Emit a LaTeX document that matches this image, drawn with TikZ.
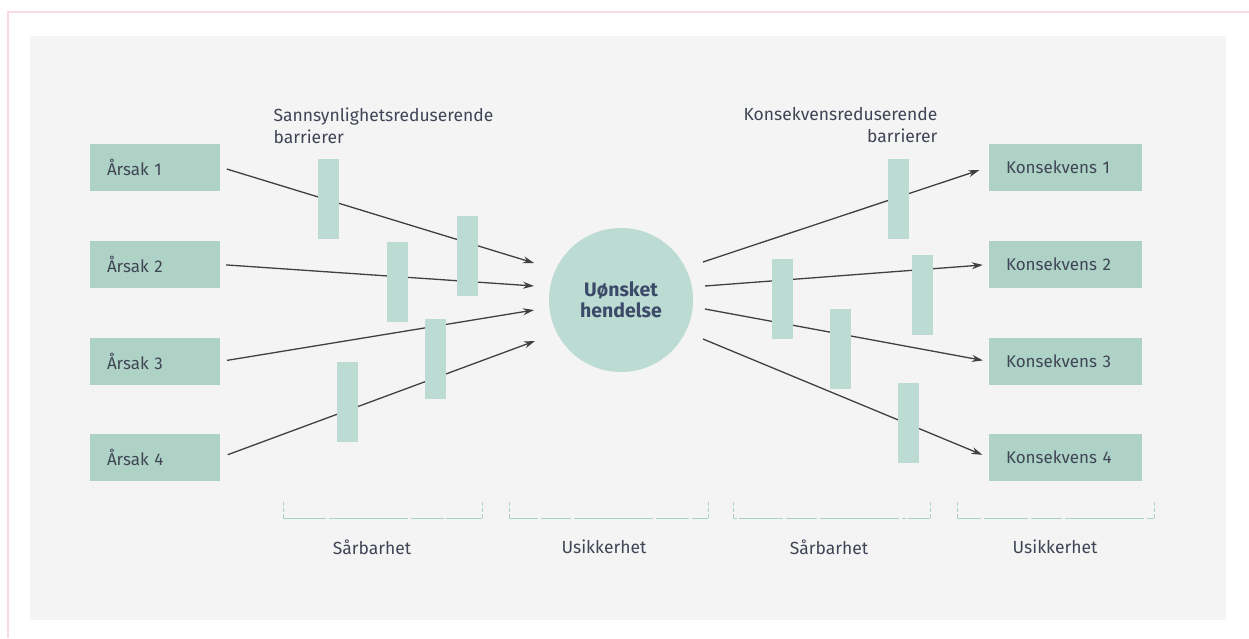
\documentclass[tikz,border=0pt]{standalone}
\usepackage{fontspec}
\setmainfont{Fira Sans}
\usepackage{xcolor}
\usepackage{tikz}
\usetikzlibrary{arrows.meta}
\pgfdeclarelayer{nodelayer}
\pgfdeclarelayer{edgelayer}
\pgfsetlayers{nodelayer,edgelayer,main}
\definecolor{boxgreen}{HTML}{AED3C6}
\definecolor{barrgreen}{HTML}{BCDBD2}
\definecolor{panelgrey}{HTML}{F4F4F4}
\definecolor{framepink}{HTML}{F9DCE1}
\definecolor{inkgrey}{HTML}{404556}
\definecolor{inknavy}{HTML}{3B4A68}
\definecolor{dashgreen}{HTML}{A9D3C7}
\tikzset{
  causebox/.style={rectangle, fill=boxgreen, minimum height=47pt, inner xsep=17pt, text width=96pt, align=left, text=inkgrey, font=\fontsize{17}{20}\selectfont},
  consbox/.style={causebox, text width=119pt},
  barrier/.style={rectangle, fill=barrgreen, minimum width=21pt, minimum height=80pt, inner sep=0pt},
  flow/.style={draw=black!75, line width=1.3pt, -{Stealth[length=11pt,width=7pt]}},
  span/.style={draw=dashgreen, line width=1pt},
  caption/.style={text=inkgrey, font=\fontsize{17.5}{22}\selectfont},
}

\begin{document}
\begin{tikzpicture}[x=1pt, y=-1pt]
  \useasboundingbox (0,0) rectangle (1249,638);
  \begin{pgfonlayer}{nodelayer}
    % frame and panel
    \draw [framepink, line width=1.5pt] (8,638) -- (8,12) -- (1249,12);
    \fill [panelgrey] (30,36) rectangle (1226,620);
    \node [causebox] (1) at (155,167) {Årsak 1};
    \node [causebox] (2) at (155,264.5) {Årsak 2};
    \node [causebox] (3) at (155,361.5) {Årsak 3};
    \node [causebox] (4) at (155,457.5) {Årsak 4};
    \node [circle, fill=barrgreen, minimum size=144pt, inner sep=0pt, align=center, text=inknavy, font=\fontsize{19.5}{21}\bfseries] (0) at (621,300) {Uønsket\\hendelse};
    \node [consbox] (5) at (1065.5,167) {Konsekvens 1};
    \node [consbox] (6) at (1065.5,264.5) {Konsekvens 2};
    \node [consbox] (7) at (1065.5,361.5) {Konsekvens 3};
    \node [consbox] (8) at (1065.5,457.5) {Konsekvens 4};
    \coordinate (10) at (534,263);
    \coordinate (11) at (534,286);
    \coordinate (12) at (534,310);
    \coordinate (13) at (535,341);
    \coordinate (14) at (703,262);
    \coordinate (15) at (705,286);
    \coordinate (16) at (705,309);
    \coordinate (17) at (703,339);
    \node [caption, anchor=north west, align=left] (18) at (270,104) {Sannsynlighetsreduserende\\barrierer};
    \node [caption, anchor=north east, align=right] (19) at (941,104) {Konsekvensreduserende\\barrierer};
    \node [caption] (20) at (372,547) {Sårbarhet};
    \node [caption] (21) at (604,547) {Usikkerhet};
    \node [caption] (22) at (829,547) {Sårbarhet};
    \node [caption] (23) at (1055,547) {Usikkerhet};
  \end{pgfonlayer}
  \begin{pgfonlayer}{edgelayer}
    \draw [flow, shorten <=7pt] (1.east) to (10);
    \draw [flow, shorten <=6pt] (2.east) to (11);
    \draw [flow, shorten <=7pt] (3.east) to (12);
    \draw [flow, shorten <=8pt] (4.east) to (13);
    \draw [flow, shorten >=10pt] (14) to (5.west);
    \draw [flow, shorten >=6pt] (15) to (6.west);
    \draw [flow, shorten >=6pt] (16) to (7.west);
    \draw [flow, shorten >=7pt] (17) to (8.west);
  \end{pgfonlayer}
  % barriers
  \node [barrier] (30) at (328,199) {};
  \node [barrier] (31) at (397.5,281.5) {};
  \node [barrier] (32) at (467.5,255.5) {};
  \node [barrier] (33) at (435.5,359) {};
  \node [barrier] (34) at (347.5,401.5) {};
  \node [barrier] (35) at (898.5,199) {};
  \node [barrier] (36) at (782.5,299) {};
  \node [barrier] (37) at (840,349) {};
  \node [barrier] (38) at (922.5,295) {};
  \node [barrier] (39) at (908.5,423) {};
  % spans
  \draw [span, dash pattern=on 4pt off 2pt] (283,502) -- (283,518) (482,518) -- (482,502);
  \draw [span, dash pattern=on 43pt off 3pt on 79pt off 3pt on 33pt off 2pt] (283,518) -- (482,518);
  \draw [span, dash pattern=on 4pt off 2pt] (509,502) -- (509,518) (708,518) -- (708,502);
  \draw [span, dash pattern=on 29pt off 3pt on 30pt off 3pt on 79pt off 3pt on 33pt off 3pt] (509,518) -- (708,518);
  \draw [span, dash pattern=on 4pt off 2pt] (733,502) -- (733,518) (930,518) -- (930,502);
  \draw [span, dash pattern=on 4pt off 2pt on 44pt off 3pt on 31pt off 3pt on 79pt off 3pt] (733,518) -- (930,518);
  \draw [span, dash pattern=on 4pt off 2pt] (957,502) -- (957,518) (1154,518) -- (1154,502);
  \draw [span, dash pattern=on 24pt off 3pt on 44pt off 3pt on 31pt off 3pt on 79pt off 3pt] (957,518) -- (1154,518);
\end{tikzpicture}
\end{document}
